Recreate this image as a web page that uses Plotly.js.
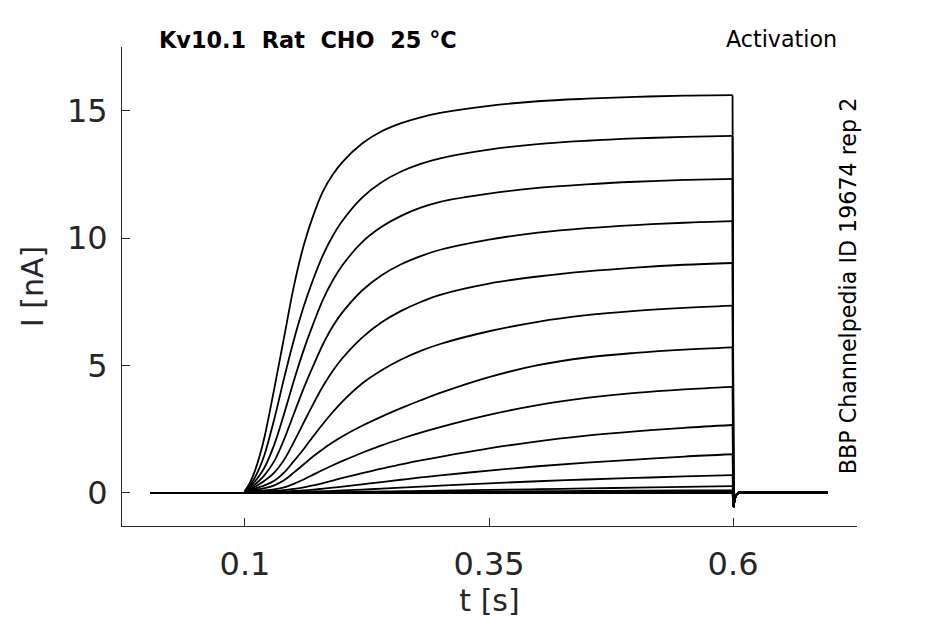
<!DOCTYPE html>
<html>
<head>
<meta charset="utf-8">
<script src="https://cdn.plot.ly/plotly-3.0.1.min.js"></script>
<style>html,body{margin:0;padding:0;background:#fff;}#chart{width:945px;height:624px;}</style>
</head>
<body>
<div id="chart"></div>
<script>
// Time points (s)
const preTime    = [0.003, 0.05, 0.0995];
const preCurrent = [0, 0, 0];
const pulseTime  = [0.0995, 0.1005, 0.105, 0.11, 0.115, 0.12, 0.13, 0.14, 0.15, 0.16, 0.17, 0.18, 0.19, 0.2,
                    0.22, 0.24, 0.26, 0.28, 0.3, 0.35, 0.4, 0.45, 0.5, 0.55, 0.5995];
const tailTime    = [0.6005, 0.6015, 0.603, 0.606, 0.65, 0.697];
const tailCurrent = [-0.55, -0.3, -0.08, 0.02, 0.02, 0.02];

// Currents (nA) during the activation step, one array per sweep
const sweep1  = [0, 0.10, 0.40, 0.85, 1.45, 2.20, 4.10, 6.10, 8.10, 9.70, 10.90, 11.85, 12.50, 13.00, 13.72, 14.20, 14.52, 14.75, 14.92, 15.20, 15.38, 15.48, 15.55, 15.60, 15.62];
const sweep2  = [0, 0.10, 0.30, 0.60, 1.00, 1.50, 2.90, 4.50, 6.00, 7.30, 8.40, 9.35, 10.10, 10.70, 11.60, 12.20, 12.62, 12.92, 13.14, 13.48, 13.70, 13.83, 13.92, 13.98, 14.02];
const sweep3  = [0, 0.10, 0.25, 0.45, 0.70, 1.00, 1.90, 3.10, 4.40, 5.60, 6.65, 7.60, 8.35, 8.95, 9.85, 10.45, 10.88, 11.20, 11.43, 11.75, 11.98, 12.12, 12.22, 12.29, 12.33];
const sweep4  = [0, 0.10, 0.20, 0.33, 0.50, 0.70, 1.25, 2.10, 3.10, 4.10, 5.00, 5.85, 6.55, 7.10, 7.95, 8.55, 8.98, 9.30, 9.55, 9.95, 10.22, 10.40, 10.52, 10.61, 10.67];
const sweep5  = [0, 0.10, 0.16, 0.24, 0.35, 0.48, 0.80, 1.30, 2.00, 2.75, 3.50, 4.20, 4.80, 5.30, 6.10, 6.70, 7.15, 7.50, 7.78, 8.22, 8.50, 8.70, 8.85, 8.96, 9.03];
const sweep6  = [0, 0.08, 0.12, 0.17, 0.23, 0.30, 0.48, 0.80, 1.25, 1.72, 2.23, 2.72, 3.18, 3.60, 4.30, 4.82, 5.24, 5.58, 5.85, 6.35, 6.72, 6.98, 7.15, 7.27, 7.36];
const sweep7  = [0, 0.07, 0.09, 0.12, 0.15, 0.19, 0.30, 0.50, 0.80, 1.12, 1.44, 1.73, 1.99, 2.23, 2.64, 3.00, 3.33, 3.64, 3.93, 4.55, 5.02, 5.32, 5.50, 5.63, 5.72];
const sweep8  = [0, 0.06, 0.07, 0.08, 0.09, 0.10, 0.14, 0.22, 0.36, 0.53, 0.72, 0.91, 1.09, 1.26, 1.58, 1.87, 2.13, 2.37, 2.59, 3.07, 3.45, 3.73, 3.93, 4.07, 4.17];
const sweep9  = [0, 0.05, 0.05, 0.06, 0.06, 0.07, 0.08, 0.11, 0.16, 0.22, 0.30, 0.39, 0.49, 0.59, 0.78, 0.96, 1.12, 1.28, 1.42, 1.75, 2.03, 2.25, 2.42, 2.56, 2.67];
const sweep10 = [0, 0.04, 0.04, 0.04, 0.04, 0.05, 0.05, 0.06, 0.08, 0.10, 0.13, 0.17, 0.21, 0.25, 0.34, 0.43, 0.52, 0.61, 0.69, 0.88, 1.05, 1.19, 1.31, 1.43, 1.52];
const sweep11 = [0, 0.03, 0.03, 0.03, 0.03, 0.03, 0.03, 0.04, 0.04, 0.05, 0.06, 0.07, 0.08, 0.10, 0.13, 0.17, 0.21, 0.25, 0.29, 0.38, 0.46, 0.53, 0.59, 0.65, 0.70];
const sweep12 = [0, 0.02, 0.02, 0.02, 0.02, 0.02, 0.02, 0.02, 0.03, 0.03, 0.03, 0.03, 0.04, 0.04, 0.05, 0.06, 0.07, 0.08, 0.09, 0.12, 0.15, 0.18, 0.21, 0.24, 0.27];
const sweep13 = [0, 0.02, 0.02, 0.02, 0.02, 0.02, 0.02, 0.02, 0.02, 0.02, 0.02, 0.02, 0.03, 0.03, 0.03, 0.03, 0.04, 0.04, 0.05, 0.06, 0.07, 0.08, 0.09, 0.10, 0.10];
const sweep14 = [0, 0.01, 0.01, 0.01, 0.01, 0.01, 0.01, 0.01, 0.01, 0.01, 0.01, 0.01, 0.02, 0.02, 0.02, 0.02, 0.02, 0.02, 0.03, 0.03, 0.03, 0.04, 0.04, 0.04, 0.04];
const sweep15 = [0, 0.01, 0.00, 0.00, 0.00, 0.00, 0.00, 0.00, 0.00, 0.00, 0.00, 0.00, 0.00, 0.00, 0.00, 0.00, 0.00, 0.00, 0.00, 0.00, 0.00, 0.00, 0.00, 0.00, 0.00];

const sweeps = [sweep1, sweep2, sweep3, sweep4, sweep5, sweep6, sweep7, sweep8, sweep9, sweep10, sweep11, sweep12, sweep13, sweep14, sweep15];

const xTickVals = [0.1, 0.35, 0.6];
const xTickText = ['0.1', '0.35', '0.6'];
const yTickVals = [0, 5, 10, 15];
const yTickText = ['0', '5', '10', '15'];

const lineStyle = {color: '#000000', width: 1.8};
const traces = [];
sweeps.forEach(function (s) {
  traces.push({x: preTime, y: preCurrent, mode: 'lines', line: lineStyle, hoverinfo: 'skip'});
  traces.push({x: pulseTime, y: s, mode: 'lines',
               line: Object.assign({shape: 'spline', smoothing: 1}, lineStyle), hoverinfo: 'skip'});
  traces.push({x: [pulseTime[pulseTime.length - 1]].concat(tailTime),
               y: [s[s.length - 1]].concat(tailCurrent),
               mode: 'lines', line: lineStyle, hoverinfo: 'skip'});
});

const axisColor = '#262626';
const layout = {
  width: 945, height: 624,
  margin: {l: 122, r: 88, t: 47, b: 98, pad: 0},
  paper_bgcolor: '#ffffff', plot_bgcolor: '#ffffff',
  showlegend: false,
  font: {family: 'DejaVu Sans, sans-serif', color: axisColor},
  xaxis: {
    range: [-0.026, 0.727],
    tickvals: xTickVals, ticktext: xTickText,
    ticks: 'inside', ticklen: 8, tickcolor: axisColor, tickwidth: 1,
    ticklabelstandoff: 10,
    showline: true, linecolor: axisColor, linewidth: 1,
    showgrid: false, zeroline: false,
    tickfont: {size: 32, color: axisColor},
    title: {text: 't [s]', font: {size: 30, color: axisColor}, standoff: 7}
  },
  yaxis: {
    range: [-1.296, 17.51],
    tickvals: yTickVals, ticktext: yTickText,
    ticks: 'inside', ticklen: 8, tickcolor: axisColor, tickwidth: 1,
    ticklabelstandoff: 7,
    showline: true, linecolor: axisColor, linewidth: 1,
    showgrid: false, zeroline: false,
    tickfont: {size: 32, color: axisColor},
    title: {text: 'I [nA]', font: {size: 30, color: axisColor}, standoff: 14}
  },
  annotations: [
    {text: '<b>Kv10.1 \u00a0Rat \u00a0CHO \u00a025 \u00b0C</b>', xref: 'paper', yref: 'paper',
     x: 0.047, y: 1.0146, xanchor: 'left', yanchor: 'middle', showarrow: false,
     font: {size: 22.4, color: '#000000'}},
    {text: 'Activation', xref: 'paper', yref: 'paper',
     x: 0.976, y: 1.0167, xanchor: 'right', yanchor: 'middle', showarrow: false,
     font: {size: 22.2, color: '#000000'}},
    {text: 'BBP Channelpedia ID 19674 rep 2', xref: 'paper', yref: 'paper',
     x: 0.988, y: 0.501, xanchor: 'center', yanchor: 'middle', showarrow: false,
     textangle: -90, font: {size: 22.2, color: '#000000'}}
  ]
};

Plotly.newPlot('chart', traces, layout, {displayModeBar: false, staticPlot: true});
</script>
</body>
</html>
